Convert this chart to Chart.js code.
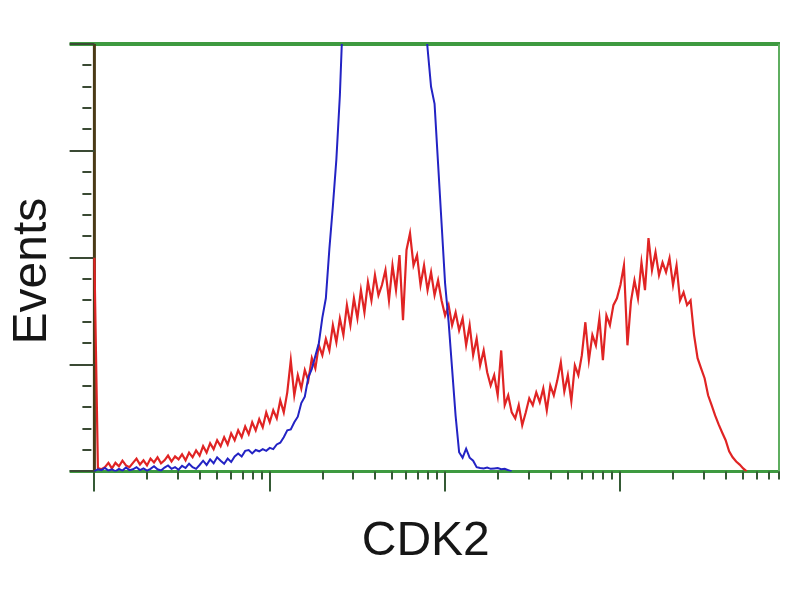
<!DOCTYPE html>
<html>
<head>
<meta charset="utf-8">
<script src="https://cdn.jsdelivr.net/npm/chart.js@4/dist/chart.umd.min.js"></script>
<style>html,body{margin:0;padding:0;background:#fff;}canvas{display:block;}</style>
</head>
<body>
<canvas id="c" width="800" height="600"></canvas>
<script>
// x: log10 fluorescence intensity (CDK2), one entry per histogram channel
const logIntensity = [
  0.00,0.02,0.04,0.06,0.08,0.10,0.12,0.14,0.16,0.18,
  0.20,0.22,0.24,0.26,0.28,0.30,0.32,0.34,0.36,0.38,
  0.40,0.42,0.44,0.46,0.48,0.50,0.52,0.54,0.56,0.58,
  0.60,0.62,0.64,0.66,0.68,0.70,0.72,0.74,0.76,0.78,
  0.80,0.82,0.84,0.86,0.88,0.90,0.92,0.94,0.96,0.98,
  1.00,1.02,1.04,1.06,1.08,1.10,1.12,1.14,1.16,1.18,
  1.20,1.22,1.24,1.26,1.28,1.30,1.32,1.34,1.36,1.38,
  1.40,1.42,1.44,1.46,1.48,1.50,1.52,1.54,1.56,1.58,
  1.60,1.62,1.64,1.66,1.68,1.70,1.72,1.74,1.76,1.78,
  1.80,1.82,1.84,1.86,1.88,1.90,1.92,1.94,1.96,1.98,
  2.00,2.02,2.04,2.06,2.08,2.10,2.12,2.14,2.16,2.18,
  2.20,2.22,2.24,2.26,2.28,2.30,2.32,2.34,2.36,2.38,
  2.40,2.42,2.44,2.46,2.48,2.50,2.52,2.54,2.56,2.58,
  2.60,2.62,2.64,2.66,2.68,2.70,2.72,2.74,2.76,2.78,
  2.80,2.82,2.84,2.86,2.88,2.90,2.92,2.94,2.96,2.98,
  3.00,3.02,3.04,3.06,3.08,3.10,3.12,3.14,3.16,3.18,
  3.20,3.22,3.24,3.26,3.28,3.30,3.32,3.34,3.36,3.38,
  3.40,3.42,3.44,3.46,3.48,3.50,3.52,3.54,3.56,3.58,
  3.60,3.62,3.64,3.66,3.68,3.70,3.72
];

// CDK2 antibody stained cells (red)
const cdk2Events = [
  50,0.8,0.5,1,2,0.7,2,1.2,2.5,1.4,
  1,2,3,1.6,2.6,1.4,3,2.1,3.3,1.9,
  2.6,3.7,2.3,3.5,2.8,4,2.6,4.4,3.3,4.9,
  3.7,5.9,4.4,6.6,5.2,7.3,5.9,8,6.3,8.9,
  7.3,9.6,8,10.5,8.7,11.5,9.6,12.2,10.3,13.8,
  11.5,14.3,12.4,16.6,13.8,18.5,26,17.8,22.5,19.4,
  23.7,21.3,26.5,24.1,29.5,27.2,31,28.3,34.2,30.2,
  35.8,31.9,38.9,34.2,40.5,35.8,42.4,37.2,44.3,40,
  45.9,41.2,43.6,47.1,40,48.2,42.4,50.6,35.4,51.8,
  55.7,48.2,50.6,43.6,48.2,42.4,46.6,41.2,44.7,40,
  36.5,38.9,34.2,37.2,33,35.8,29.5,34.2,27.2,31.1,
  24.8,28.3,23.2,20.1,22.5,17.8,28.3,15.5,17.8,13.8,
  12.4,15.5,10.8,13.8,17.1,15.5,18.5,16.2,19.4,14.3,
  20.1,17.8,21.3,25.5,18.7,22.5,16.4,24.8,22.5,27.2,
  34.9,26,31.9,29.5,35.8,26,36.5,34.2,38.9,40.5,
  43.6,48.2,29.5,39.8,44.7,40.5,48.9,42.4,54.6,47.1,
  51.3,45.9,48.9,46.6,49.9,43.6,48.2,40,41.9,38.9,
  40,31.9,26.5,24.1,21.8,17.8,15.5,13.1,11,9.1,
  7.3,4.7,3.3,2.3,1.6,0.7,0
];

// negative control (blue), peak runs off the top of the plot
const controlEvents = [
  0,0.5,0.3,0.8,0.2,0.5,0,0.6,0.2,0.9,
  0.3,0.5,1,0.3,0.7,0.2,0.6,1.2,0.5,0.2,
  0.9,1.4,0.6,1,0.4,1.3,0.8,1.8,1,0.6,
  1.5,2.5,1.5,2.8,1.9,3.3,2.5,1.8,3,2.2,
  3.5,4.2,3.5,4.8,5,4.2,5,4.7,5.2,4.8,
  5.5,5.2,6.3,6.7,8,9.6,9.8,11.5,12.8,16,
  17.5,22,24,27,30,36,40.5,52,62,73,
  88,110,125,135,140,145,148,150,152,150,
  148,150,152,150,148,146,145,142,140,138,
  135,130,125,120,110,99,90,86,72,58,
  44,35,24,13,4.5,3.2,5.3,3.2,2.5,1,
  0.8,0.7,0.9,0.6,0.7,0.8,0.5,0.6,0.3,0
];

// axis tick definitions
const xDecades = [0, 1, 2, 3];
const xMinorMultipliers = [2, 3, 4, 5, 6, 7, 8, 9];
const yMajorTicks = [0, 25, 50, 75, 100];
const yMinorTicks = [5, 10, 15, 20, 30, 35, 40, 45, 55, 60, 65, 70, 80, 85, 90, 95];

const xLabel = 'CDK2';
const yLabel = 'Events';

const toPoints = (ys) => ys.map((v, i) => ({ x: logIntensity[i], y: v }));

const framePlugin = {
  id: 'frame',
  beforeDatasetsDraw(chart) {
    const { ctx, chartArea: a, scales: { x, y } } = chart;
    ctx.save();
    ctx.lineCap = 'butt';
    // green frame
    ctx.strokeStyle = '#3e9a40';
    ctx.lineWidth = 4;
    ctx.beginPath(); ctx.moveTo(a.left - 2, a.top); ctx.lineTo(a.right, a.top); ctx.stroke();
    ctx.lineWidth = 3;
    ctx.beginPath(); ctx.moveTo(a.left - 2, a.bottom); ctx.lineTo(a.right, a.bottom); ctx.stroke();
    ctx.strokeStyle = '#5fae60';
    ctx.lineWidth = 2;
    ctx.beginPath(); ctx.moveTo(a.right - 1, a.top); ctx.lineTo(a.right - 1, a.bottom); ctx.stroke();
    // y axis line at log intensity 0
    const x0 = x.getPixelForValue(0);
    ctx.strokeStyle = '#4a3a16';
    ctx.lineWidth = 3;
    ctx.beginPath(); ctx.moveTo(x0, a.top); ctx.lineTo(x0, a.bottom); ctx.stroke();
    // y ticks
    ctx.strokeStyle = '#3a4a34';
    ctx.lineWidth = 2;
    yMajorTicks.forEach(v => {
      const py = Math.round(y.getPixelForValue(v));
      ctx.beginPath(); ctx.moveTo(a.left - 2, py); ctx.lineTo(x0, py); ctx.stroke();
    });
    yMinorTicks.forEach(v => {
      const py = Math.round(y.getPixelForValue(v));
      ctx.beginPath(); ctx.moveTo(x0 - 12, py); ctx.lineTo(x0 - 3, py); ctx.stroke();
    });
    // x ticks
    ctx.strokeStyle = '#355a35';
    xDecades.forEach(d => {
      const px = Math.round(x.getPixelForValue(d));
      ctx.beginPath(); ctx.moveTo(px, a.bottom); ctx.lineTo(px, a.bottom + 20); ctx.stroke();
      xMinorMultipliers.forEach(m => {
        const v = d + Math.log10(m);
        if (v <= x.max) {
          const pm = Math.round(x.getPixelForValue(v));
          ctx.beginPath(); ctx.moveTo(pm, a.bottom); ctx.lineTo(pm, a.bottom + 8); ctx.stroke();
        }
      });
    });
    ctx.restore();
  }
};

const titleFont = { family: "'Liberation Sans', Arial, sans-serif", size: 48, weight: 'normal' };

new Chart(document.getElementById('c'), {
  type: 'line',
  data: {
    datasets: [
      {
        label: 'Negative control',
        data: toPoints(controlEvents),
        borderColor: '#2323c4',
        borderWidth: 2,
        pointRadius: 0,
        tension: 0,
        fill: false
      },
      {
        label: 'CDK2',
        data: toPoints(cdk2Events),
        borderColor: '#e02424',
        borderWidth: 2.2,
        pointRadius: 0,
        tension: 0,
        fill: false
      }
    ]
  },
  options: {
    responsive: false,
    animation: false,
    layout: { padding: { left: 0, top: 44, right: 20, bottom: 29 } },
    plugins: { legend: { display: false }, tooltip: { enabled: false } },
    scales: {
      x: {
        type: 'linear',
        min: -0.13,
        max: 3.91,
        grid: { display: false, drawTicks: false },
        border: { display: false },
        ticks: { display: false },
        title: { display: true, text: xLabel, font: titleFont, color: '#161616', padding: { top: 42, bottom: 0 } }
      },
      y: {
        type: 'linear',
        min: 0,
        max: 100,
        grid: { display: false, drawTicks: false },
        border: { display: false },
        ticks: { display: false },
        title: { display: true, text: yLabel + '  ', font: titleFont, color: '#161616', padding: { top: 4, bottom: 10 } }
      }
    }
  },
  plugins: [framePlugin]
});
</script>
</body>
</html>
